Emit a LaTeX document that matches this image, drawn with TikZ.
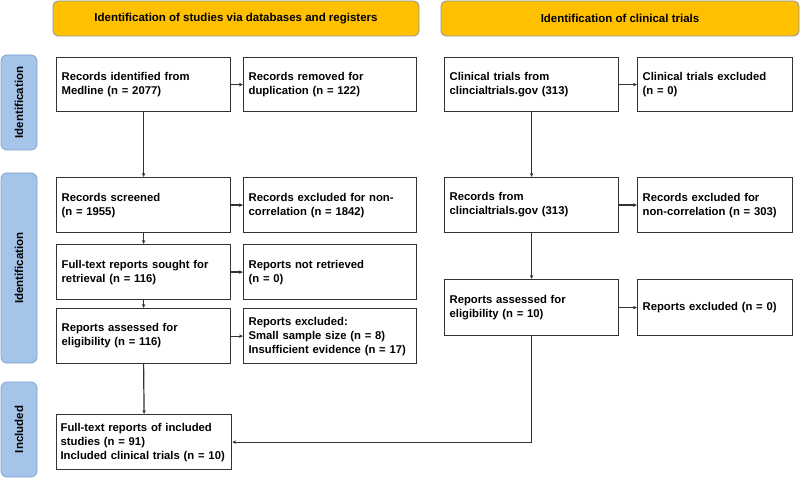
\documentclass[tikz,border=0pt]{standalone}
\usepackage{fontspec}
\setmainfont{Liberation Sans}
\usetikzlibrary{arrows.meta}
\definecolor{hdr}{HTML}{FFC000}
\definecolor{hdrline}{HTML}{8A96A3}
\definecolor{side}{HTML}{A4C4EA}
\definecolor{sideline}{HTML}{7FA3CF}
\definecolor{ln}{HTML}{333333}
\tikzset{
  box/.style={draw=ln, line width=1.2pt, fill=white, anchor=north west, inner xsep=5pt, inner ysep=0pt,
    align=left, font=\bfseries\fontsize{11.3}{14}\selectfont},
  wl/.style={box, text width=164pt, minimum height=55pt},
  wr/.style={box, text width=163pt, minimum height=55pt},
  wb/.style={box, text width=145pt, minimum height=55pt},
  hdrbox/.style={draw=hdrline, line width=0.8pt, fill=hdr, rounded corners=5pt},
  sidebox/.style={draw=sideline, line width=0.8pt, fill=side, rounded corners=6pt},
  lbl/.style={font=\bfseries\fontsize{11.5}{13}\selectfont},
  arr/.style={draw=ln, line width=1.2pt, -{Stealth[length=4pt,width=3.5pt]}},
}
\begin{document}
\begin{tikzpicture}[x=1pt,y=-1pt]
\useasboundingbox (0,0) rectangle (800,478);
% headers
\draw[hdrbox] (53,1) rectangle (419,36);
\node[lbl] (h1) at (236,18.5) {Identification of studies via databases and registers};
\draw[hdrbox] (441,1) rectangle (799,36);
\node[lbl] (h2) at (620,18.5) {Identification of clinical trials};
% side labels
\draw[sidebox] (1,55) rectangle (37,150);
\node[lbl, rotate=90] (s1) at (19,102.5) {Identification};
\draw[sidebox] (1,173) rectangle (37,363);
\node[lbl, rotate=90] (s2) at (19,268) {Identification};
\draw[sidebox] (1,382) rectangle (37,477);
\node[lbl, rotate=90] (s3) at (19,429.5) {Included};
% left column
\node[wl, minimum height=54pt] (L1) at (56,57) {Records identified from\\Medline (n = 2077)};
\node[wr, minimum height=54pt] (R1) at (243,57) {Records removed for\\duplication (n = 122)};
\node[wl] (L2) at (56,177) {Records screened\\(n = 1955)};
\node[wr] (R2) at (243,177) {Records excluded for non-\\correlation (n = 1842)};
\node[wl] (L3) at (56,244) {Full-text reports sought for\\retrieval (n = 116)};
\node[wr] (R3) at (243,244) {Reports not retrieved\\(n = 0)};
\node[wl] (L4) at (56,308) {Reports assessed for\\eligibility (n = 116)};
\node[wr] (R4) at (243,308) {Reports excluded:\\Small sample size (n = 8)\\Insufficient evidence (n = 17)};
\node[wl, inner xsep=4pt, text width=167pt] (L5) at (56,414) {Full-text reports of included\\studies (n = 91)\\Included clinical trials (n = 10)};
% right column
\node[wl, minimum height=54pt] (A1) at (444,57) {Clinical trials from\\clincialtrials.gov (313)};
\node[wb, minimum height=54pt] (B1) at (637,57) {Clinical trials excluded\\(n = 0)};
\node[wl] (A2) at (444,177) {Records from\\clincialtrials.gov (313)};
\node[wb] (B2) at (637,177) {Records excluded for\\non-correlation (n = 303)};
\node[wl, minimum height=56pt] (A3) at (444,279) {Reports assessed for\\eligibility (n = 10)};
\node[wb, minimum height=56pt] (B3) at (637,279) {Reports excluded (n = 0)};
% arrows
\path[arr] (L1) -- (R1);
\path[arr] (L2) -- (R2);
\path[arr] (L3) -- (R3);
\path[arr] (L4) -- (R4);
\path[arr] (L1.south) -- (L2.north);
\path[arr] (L2.south) -- (L3.north);
\path[arr] (L3.south) -- (L4.north);
\path[arr] (L4.south) -- (L5.north);
\path[arr] (A1) -- (B1);
\path[arr] (A2) -- (B2);
\path[arr] (A3) -- (B3);
\path[arr] (A1.south) -- (A2.north);
\path[arr] (A2.south) -- (A3.north);
\path[arr] (A3.south) |- (L5.east);
\end{tikzpicture}
\end{document}
